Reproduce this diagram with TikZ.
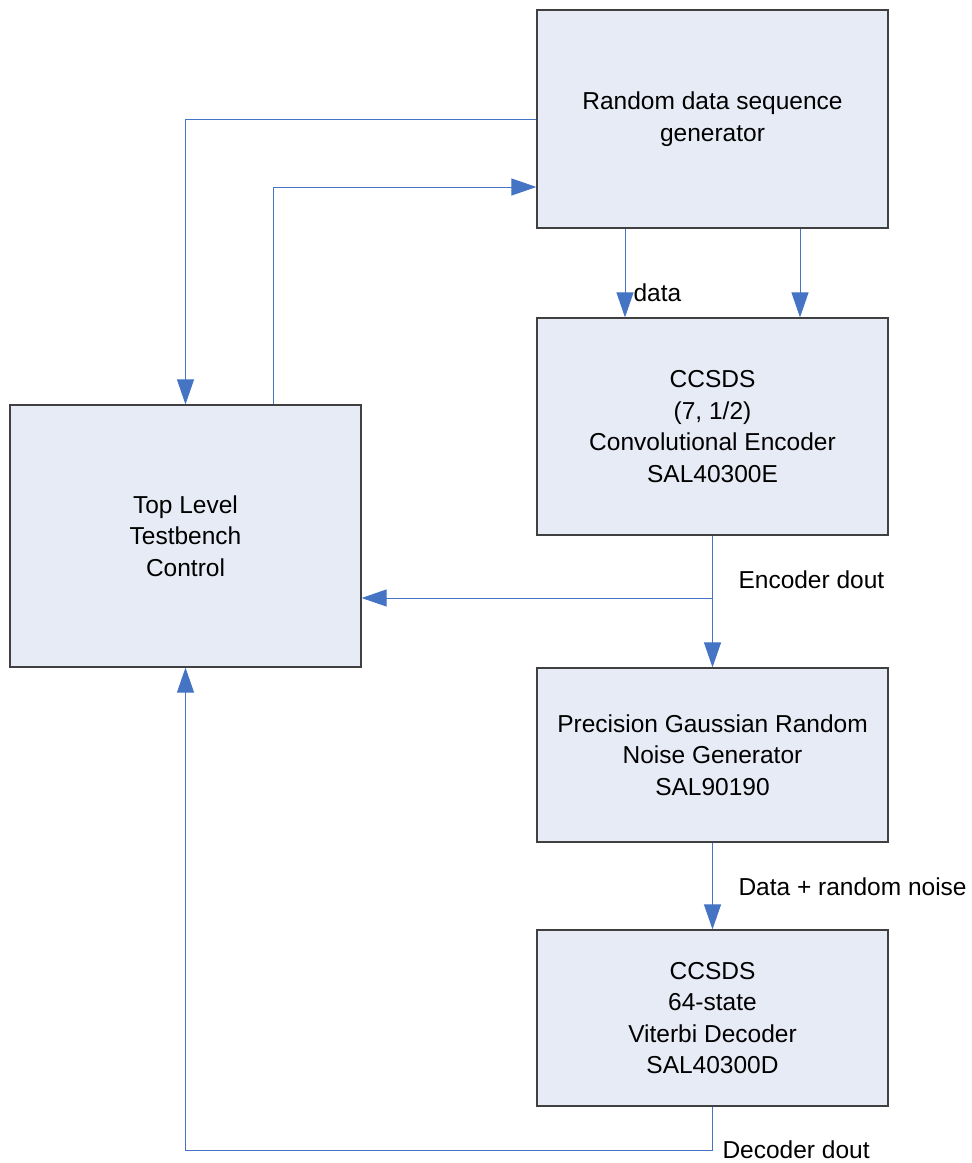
\documentclass[tikz,border=0pt]{standalone}
\usepackage{fontspec}
\setmainfont{Liberation Sans}
\usepackage{tikz}
\usetikzlibrary{positioning,arrows.meta}
\definecolor{boxfill}{RGB}{231,235,245}
\definecolor{boxline}{RGB}{64,64,64}
\definecolor{wire}{RGB}{70,116,196}

\begin{document}
\begin{tikzpicture}[x=1pt,y=-1pt,>={Triangle[width=17pt,length=25pt]},
  block/.style={draw=boxline,line width=1.2pt,fill=boxfill,minimum width=351pt,align=center,font=\fontsize{24.5}{31.5}\selectfont},
  flow/.style={->,draw=wire,line width=1pt},
  lbl/.style={anchor=west,font=\fontsize{24.5}{28}\selectfont}]
  \useasboundingbox (0,0) rectangle (972,1163);
  \node[block,minimum height=218pt] (G) at (712.5,119) {Random data sequence\\generator};
  \node[block,minimum height=217pt] (E) at (712.5,426.5) {CCSDS\\(7, 1/2)\\Convolutional Encoder\\SAL40300E};
  \node[block,minimum height=262pt] (T) at (185.5,536) {Top Level\\Testbench\\Control};
  \node[block,minimum height=174pt] (N) at (712.5,755) {Precision Gaussian Random\\Noise Generator\\SAL90190};
  \node[block,minimum height=176pt] (V) at (712.5,1018) {CCSDS\\64-state\\Viterbi Decoder\\SAL40300D};
  \coordinate (tap) at (712.5,598);
  \coordinate (ret) at (712.5,1150);
  % Draw connections
  \draw[flow] (G.west) -| (T.north);
  \draw[flow] ([xshift=88pt]T.north) |- ([yshift=-68pt]G.west);
  \draw[flow] ([xshift=-87.5pt]G.south) -- ([xshift=-87.5pt]E.north);
  \draw[flow] ([xshift=87.5pt]G.south) -- ([xshift=87.5pt]E.north);
  \draw[flow] (E.south) -- (N.north);
  \draw[flow] (tap) -- (tap -| T.east);
  \draw[flow] (N.south) -- (V.north);
  \draw[flow] (V.south) -- (ret) -| (T.south);
  % Labels
  \node[lbl] (dl) at (630,293) {data};
  \node[lbl] (el) at (735,580) {Encoder dout};
  \node[lbl] (nl) at (735,887) {Data + random noise};
  \node[lbl] (vl) at (719,1150) {Decoder dout};
\end{tikzpicture}
\end{document}
